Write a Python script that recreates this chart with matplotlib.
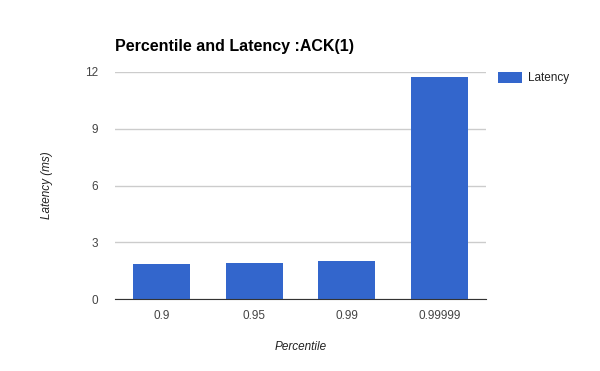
import matplotlib
matplotlib.use("Agg")
import matplotlib.pyplot as plt

# datos
percentiles = ["0.9", "0.95", "0.99", "0.99999"]
latency = [1.87, 1.92, 2.03, 11.75]
y_ticks = [0, 3, 6, 9, 12]

plt.rcParams["font.family"] = ["Liberation Sans", "DejaVu Sans"]

fig = plt.figure(figsize=(6, 3.71), dpi=100)
ax = fig.add_axes([0.1917, 0.194, 0.618, 0.612])

x = range(len(percentiles))
ax.bar(x, latency, width=0.615, color="#3366cc", label="Latency", zorder=3)

ax.set_xlim(-0.5, len(percentiles) - 0.5)
ax.set_ylim(0, 12)
ax.set_yticks(y_ticks)
ax.set_xticks(list(x))
ax.set_xticklabels(percentiles)

ax.grid(axis="y", color="#cccccc", linewidth=1, zorder=0)
for s in ["top", "right", "left"]:
    ax.spines[s].set_visible(False)
ax.spines["bottom"].set_color("#333333")
ax.spines["bottom"].set_zorder(4)
ax.tick_params(axis="both", length=0, labelsize=8.5, colors="#444444")
ax.tick_params(axis="y", pad=12)
ax.tick_params(axis="x", pad=8)

ax.set_xlabel("Percentile", fontsize=8.5, style="italic", color="#222222", labelpad=13.5)
ax.set_ylabel("Latency (ms)", fontsize=8.5, style="italic", color="#222222", labelpad=23)

fig.text(0.192, 0.862, "Percentile and Latency :ACK(1)", fontsize=11.5,
         fontweight="bold", color="#000000", ha="left", va="baseline")

ax.legend(loc="upper left", bbox_to_anchor=(1.005, 1.046), frameon=False,
          fontsize=8.5, handlelength=2.0, handleheight=1.0, handletextpad=0.5,
          labelcolor="#222222")

plt.savefig("out.png", dpi=100)
